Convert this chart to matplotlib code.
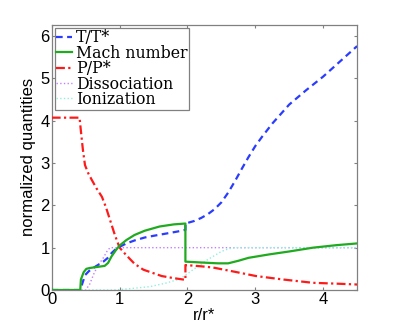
import matplotlib
matplotlib.use("Agg")
import matplotlib.pyplot as plt

# ── data ────────────────────────────────────────────────────────────────────
T_X = [0, 0.42, 0.45, 0.49, 0.55, 0.64, 0.76, 0.82, 0.88, 0.94, 1.0, 1.1, 1.22,
       1.37, 1.5, 1.71, 1.85, 1.97, 1.97, 2.1, 2.2, 2.3, 2.4, 2.5, 2.6, 2.7,
       2.8, 2.9, 3.0, 3.1, 3.25, 3.5, 3.75, 4.0, 4.25, 4.5]
T_Y = [0, 0, 0.15, 0.35, 0.45, 0.55, 0.67, 0.75, 0.87, 0.96, 1.02, 1.1, 1.17,
       1.24, 1.28, 1.34, 1.38, 1.42, 1.57, 1.63, 1.70, 1.79, 1.91, 2.07, 2.3,
       2.57, 2.86, 3.14, 3.4, 3.62, 3.93, 4.38, 4.72, 5.04, 5.4, 5.76]

MACH_X = [0, 0.42, 0.43, 0.47, 0.51, 0.56, 0.65, 0.78, 0.83, 0.88, 0.94, 1.0,
          1.1, 1.22, 1.37, 1.59, 1.8, 1.97, 1.97, 2.2, 2.45, 2.6, 2.75, 2.9,
          3.2, 3.5, 3.85, 4.2, 4.5]
MACH_Y = [0, 0, 0.25, 0.42, 0.5, 0.52, 0.54, 0.57, 0.64, 0.79, 0.93, 1.05,
          1.18, 1.30, 1.40, 1.5, 1.55, 1.57, 0.67, 0.65, 0.63, 0.63, 0.69, 0.76,
          0.84, 0.91, 1.0, 1.06, 1.10]

P_X = [0, 0.41, 0.43, 0.46, 0.49, 0.54, 0.59, 0.66, 0.74, 0.8, 0.86, 0.93, 1.0,
       1.1, 1.22, 1.35, 1.62, 1.8, 1.97, 1.97, 2.2, 2.38, 2.7, 3.01, 3.4, 3.85,
       4.2, 4.5]
P_Y = [4.07, 4.07, 3.75, 3.3, 2.95, 2.75, 2.6, 2.4, 2.2, 1.95, 1.65, 1.3, 1.0,
       0.82, 0.62, 0.48, 0.33, 0.28, 0.24, 0.59, 0.56, 0.53, 0.43, 0.33, 0.25,
       0.17, 0.15, 0.13]

DISS_X = [0, 0.5, 0.56, 0.63, 0.7, 0.76, 0.82, 0.86, 4.5]
DISS_Y = [0, 0, 0.14, 0.42, 0.62, 0.76, 0.93, 1.0, 1.0]

ION_X = [0, 0.9, 1.0, 1.2, 1.45, 1.7, 1.9, 1.97, 2.1, 2.3, 2.5, 2.6, 2.7, 4.5]
ION_Y = [0, 0, 0.01, 0.04, 0.08, 0.17, 0.27, 0.35, 0.5, 0.72, 0.91, 0.97, 1.0, 1.0]

X_TICKS = [0, 1, 2, 3, 4]
Y_TICKS = [0, 1, 2, 3, 4, 5, 6]

COLOR_T    = "#2a3cff"
COLOR_MACH = "#1faa1f"
COLOR_P    = "#ff1a1a"
COLOR_DISS = "#c080ff"
COLOR_ION  = "#90f0dd"
COLOR_AX   = "#808080"

plt.rcParams["font.family"] = ["Liberation Sans", "DejaVu Sans"]

fig = plt.figure(figsize=(3.95, 3.29), dpi=100)
ax = fig.add_axes([0.131, 0.1185, 0.773, 0.807])

ax.plot(T_X, T_Y, color=COLOR_T, lw=1.6, dashes=(3, 2), label="T/T*", zorder=4)
ax.plot(MACH_X, MACH_Y, color=COLOR_MACH, lw=1.6, label="Mach number", zorder=5)
ax.plot(P_X, P_Y, color=COLOR_P, lw=1.6, dashes=(4, 1.5, 1, 1.5), label="P/P*",
        zorder=3)
ax.plot(DISS_X, DISS_Y, color=COLOR_DISS, lw=1.0, linestyle=":",
        label="Dissociation", zorder=2)
ax.plot(ION_X, ION_Y, color=COLOR_ION, lw=1.0, linestyle=":",
        label="Ionization", zorder=2)

ax.set_xlim(0, 4.5)
ax.set_ylim(0, 6.27)
ax.set_xticks(X_TICKS)
ax.set_yticks(Y_TICKS)
ax.set_xlabel("r/r*", fontsize=12, labelpad=1)
ax.set_ylabel("normalized quantities", fontsize=12, labelpad=3)
ax.tick_params(direction="in", length=2.5, width=0.8, labelsize=12, pad=1.5,
               top=True, right=True, color=COLOR_AX)
for sp in ax.spines.values():
    sp.set_color(COLOR_AX)
    sp.set_linewidth(0.9)

leg = ax.legend(loc="upper left", fancybox=False, framealpha=1,
                prop={"family": "DejaVu Serif", "size": 11.3},
                borderaxespad=0.2, borderpad=0.1, labelspacing=-0.1,
                handlelength=1.0, handletextpad=0.25)
leg.get_frame().set_edgecolor(COLOR_AX)
leg.get_frame().set_linewidth(0.9)

fig.savefig("out.png", dpi=100)
